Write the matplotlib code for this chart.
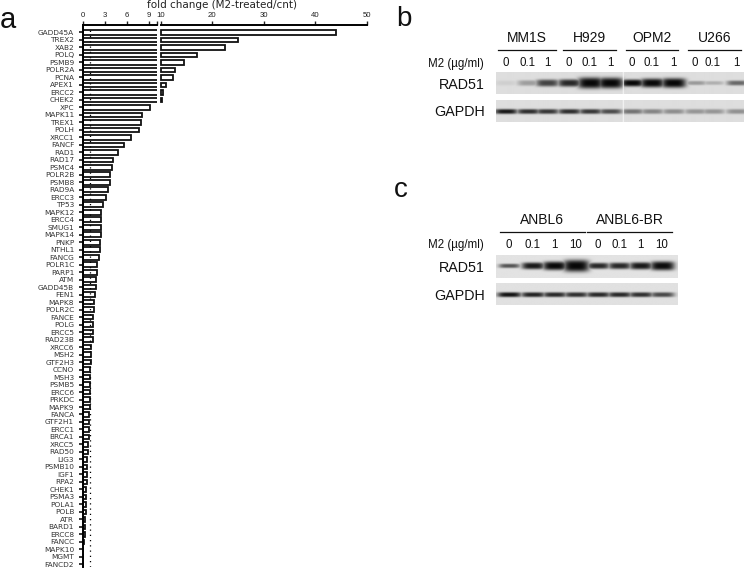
import numpy as np
import matplotlib
matplotlib.use("Agg")
import matplotlib.pyplot as plt

plt.rcParams['font.family'] = ['Liberation Sans', 'DejaVu Sans']

genes = ["GADD45A","TREX2","XAB2","POLQ","PSMB9","POLR2A","PCNA","APEX1","ERCC2","CHEK2",
         "XPC","MAPK11","TREX1","POLH","XRCC1","FANCF","RAD1","RAD17","PSMC4","POLR2B",
         "PSMB8","RAD9A","ERCC3","TP53","MAPK12","ERCC4","SMUG1","MAPK14","PNKP","NTHL1",
         "FANCG","POLR1C","PARP1","ATM","GADD45B","FEN1","MAPK8","POLR2C","FANCE","POLG",
         "ERCC5","RAD23B","XRCC6","MSH2","GTF2H3","CCNO","MSH3","PSMB5","ERCC6","PRKDC",
         "MAPK9","FANCA","GTF2H1","ERCC1","BRCA1","XRCC5","RAD50","LIG3","PSMB10","IGF1",
         "RPA2","CHEK1","PSMA3","POLA1","POLB","ATR","BARD1","ERCC8","FANCC","MAPK10",
         "MGMT","FANCD2"]
fold_change = [44.0,25.0,22.5,17.1,14.5,12.8,12.3,11.0,10.5,10.3,
               9.1,8.06,7.95,7.66,6.54,5.6,4.83,4.07,4.0,3.7,
               3.65,3.5,3.2,2.7,2.55,2.55,2.5,2.45,2.35,2.3,
               2.2,1.95,1.9,1.8,1.8,1.65,1.57,1.5,1.45,1.43,
               1.4,1.35,1.2,1.1,1.08,1.06,1.03,1.02,0.98,0.96,
               0.95,0.88,0.86,0.85,0.83,0.75,0.68,0.65,0.62,0.6,
               0.55,0.52,0.48,0.45,0.42,0.4,0.38,0.35,0.15,0.1,
               0.05,0.03]
low_ticks = [0, 3, 6, 9]
high_ticks = [10, 20, 30, 40, 50]

b_groups = ["MM1S", "H929", "OPM2", "U266"]
b_doses = ["0","0.1","1","0","0.1","1","0","0.1","1","0","0.1","1"]
b_rad51 = [0.07,0.30,0.72,0.85,1.0,1.0,1.0,1.0,1.0,0.32,0.22,0.55]
b_rad51_size = [0.7,0.8,1.0,1.05,1.55,1.5,1.0,1.25,1.35,0.6,0.55,0.7]
b_gapdh = [0.92,0.82,0.78,0.82,0.78,0.68,0.50,0.42,0.38,0.34,0.34,0.36]
c_groups = ["ANBL6", "ANBL6-BR"]
c_doses = ["0","0.1","1","10","0","0.1","1","10"]
c_rad51 = [0.65,0.92,1.0,1.0,0.85,0.85,0.92,0.98]
c_rad51_size = [0.6,0.95,1.2,1.65,0.85,0.9,1.0,1.25]
c_gapdh = [0.95,0.88,0.85,0.82,0.85,0.85,0.82,0.70]

W, H = 750, 569
fig = plt.figure(figsize=(W/100, H/100), dpi=100, facecolor='white')

def axes_px(x0, y0, x1, y1):
    return fig.add_axes([x0/W, 1-y1/H, (x1-x0)/W, (y1-y0)/H])

def text_px(x, y, s, size, ha='center', color='#111111', family=None):
    fig.text(x/W, 1-y/H, s, fontsize=size, ha=ha, va='center', color=color, family=family)

# panel a
rows = np.arange(len(genes))
values = np.array(fold_change)
ax_low = axes_px(82.5, 25, 156.7, 567)
ax_high = axes_px(160.7, 25, 367, 567)
for ax in (ax_low, ax_high):
    ax.set_ylim(71.36, -1.0)
    ax.patch.set_alpha(0)
    for side in ('right', 'bottom', 'left'):
        ax.spines[side].set_visible(False)
    ax.spines['top'].set_linewidth(1.4)
    ax.xaxis.tick_top()
    ax.tick_params(axis='x', length=3, width=1.0, pad=1, labelsize=5.6, colors='#222222')
ax_low.set_xlim(0, 10)
ax_high.set_xlim(10, 50)
bar_style = dict(height=0.62, facecolor='white', edgecolor='#111111', linewidth=1.3)
ax_low.barh(rows, values, **bar_style)
hi = values > 10
ax_high.barh(rows[hi], values[hi]-10, left=10, clip_on=False, **bar_style)
ax_low.axvline(1, color='black', lw=0.9, ls=(0, (1, 3.2)), zorder=5, ymin=0, ymax=0.99)
ax_low.set_xticks(low_ticks + [10])
ax_low.set_xticklabels([str(t) for t in low_ticks] + [''])
ax_high.set_xticks(high_ticks)
ax_high.set_xticklabels([str(t) for t in high_ticks])
ax_low.spines['left'].set_visible(True)
ax_low.spines['left'].set_linewidth(1.4)
ax_low.set_yticks(rows)
ax_low.set_yticklabels(genes, fontsize=5.3, color='#333333', family='DejaVu Sans')
ax_low.tick_params(axis='y', length=3, width=1.1, pad=3)
ax_high.set_yticks([])
text_px(222, 4.5, "fold change (M2-treated/cnt)", 7.5, color='#222222', family='DejaVu Sans')

# blots
def blot(box, lanes, band_y, strength, size, half_w, half_h, bg=0.87, split=None):
    x0, y0, x1, y1 = box
    ax = axes_px(x0, y0, x1, y1)
    nx, ny = int((x1-x0)*3), int((y1-y0)*3)
    xs = np.linspace(x0, x1, nx)
    ys = np.linspace(y0, y1, ny)
    X, Y = np.meshgrid(xs, ys)
    dark = np.zeros_like(X)
    for lx, s, k in zip(lanes, strength, size):
        wx = half_w*(0.85+0.2*k)
        wy = half_h*k
        dark = np.maximum(dark, s*np.exp(-((X-lx)/wx)**4)*np.exp(-np.abs((Y-band_y)/wy)**3))
    img = bg*(1-dark) + 0.03*dark
    if split is not None:
        img[:, np.abs(xs-split) < 0.5] = 0.97
    ax.imshow(img, cmap='gray', vmin=0, vmax=1, aspect='auto', extent=(x0, x1, y1, y0),
              interpolation='bilinear')
    ax.axis('off')

b_lanes = [505.7,528,547,569,590,610,631.7,651.7,673,695,712.7,736.7]
c_lanes = [509,532.7,554.3,575.7,597.7,619,640.3,661.7]
b_gsize = [1.0]*12
c_gsize = [1.0]*8
blot((495.7,72,743,94), b_lanes, 83, b_rad51, b_rad51_size, 11, 3.6, split=622.7)
blot((495.7,100,743,122), b_lanes, 111.5, b_gapdh, b_gsize, 11, 2.5, split=622.7)
blot((495.7,255,677,277.7), c_lanes, 265.7, c_rad51, c_rad51_size, 11, 3.6, bg=0.89)
blot((495.7,282.7,677,305), c_lanes, 295, c_gapdh, c_gsize, 11.5, 2.4, bg=0.88)

# blot annotation
line_ax = axes_px(0, 0, W, H)
line_ax.set_xlim(0, W); line_ax.set_ylim(H, 0); line_ax.axis('off'); line_ax.patch.set_alpha(0)
b_spans = [(497.7,556),(563.3,615.7),(625.7,678.3),(688.3,740.7)]
c_spans = [(500,584.7),(587.3,672)]
for g, (a, b) in zip(b_groups, b_spans):
    line_ax.plot([a, b], [50, 50], color='#111111', lw=0.9)
    text_px((a+b)/2, 37.5, g, 10)
for g, (a, b) in zip(c_groups, c_spans):
    line_ax.plot([a, b], [232, 232], color='#111111', lw=0.9)
    text_px((a+b)/2, 220, g, 10)
for lx, d in zip(b_lanes, b_doses):
    text_px(lx, 63.5, d, 8.3)
for lx, d in zip(c_lanes, c_doses):
    text_px(lx, 244.5, d, 8.3)
text_px(483.5, 63.5, "M2 (\u00b5g/ml)", 8.3, ha='right')
text_px(483.5, 244.5, "M2 (\u00b5g/ml)", 8.3, ha='right')
text_px(485, 85, "RAD51", 10.3, ha='right')
text_px(485, 112, "GAPDH", 10.3, ha='right')
text_px(485, 267.5, "RAD51", 10.3, ha='right')
text_px(485, 295.5, "GAPDH", 10.3, ha='right')
text_px(0, 20, "a", 21, ha='left')
text_px(396, 19, "b", 20, ha='left')
text_px(394, 190, "c", 20, ha='left')

fig.savefig("out.png", dpi=100)
